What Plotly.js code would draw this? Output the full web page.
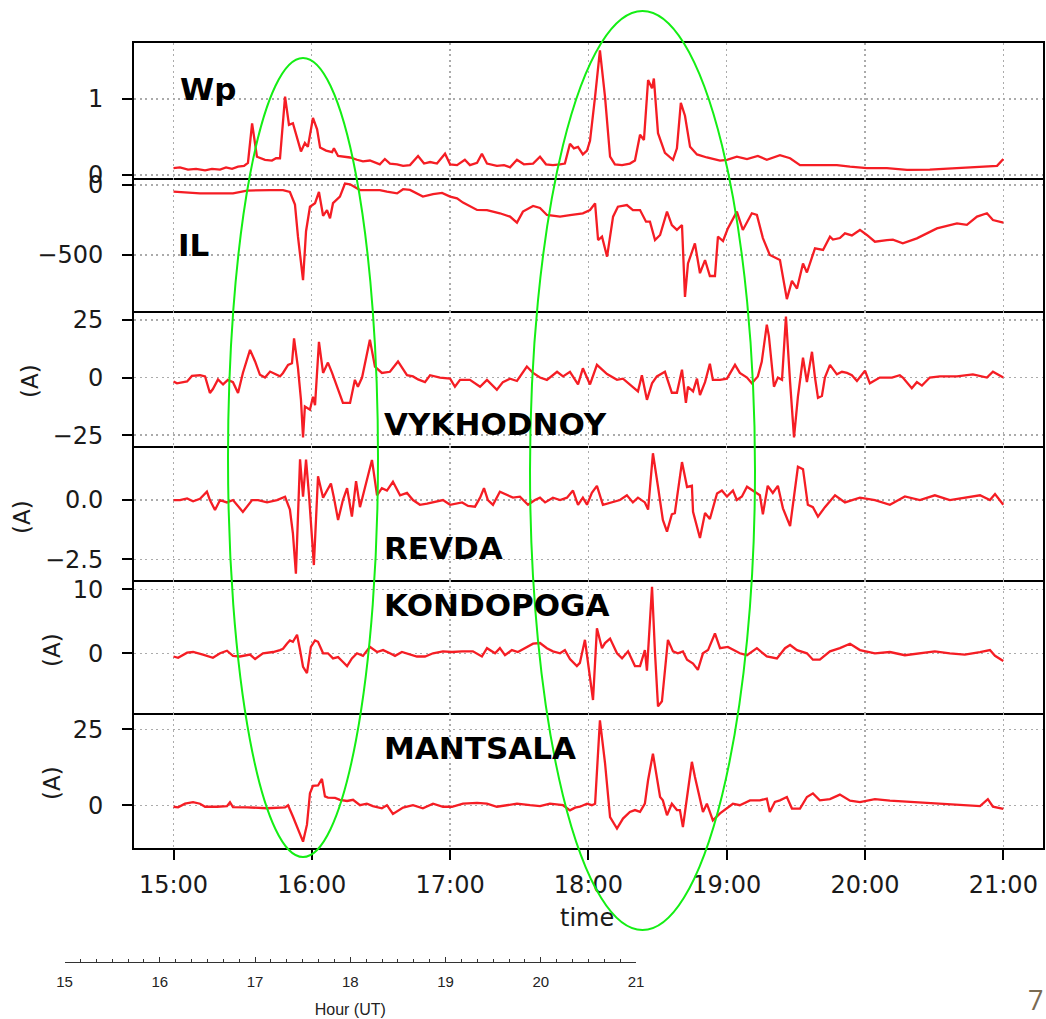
<!DOCTYPE html>
<html><head><meta charset="utf-8">
<script src="https://cdn.plot.ly/plotly-3.0.1.min.js"></script>
<style>html,body{margin:0;padding:0;background:#fff}#chart{width:1046px;height:1019px}</style>
</head><body><div id="chart"></div>
<script>
// ---- data: time in minutes after 15:00 UT, values per panel ----
const tWp = [0,2.8,6.3,9.8,13.7,16.7,20.2,22.8,25.4,28,30.6,32.3,34.1,36.2,39.7,42.7,44.5,46.2,48.4,50.1,51.8,54,55.3,57,58.3,60.5,62.3,63.6,66.2,68.8,69.6,71.4,74.4,76.6,79.6,82.2,85.2,89.5,91.7,93.9,97,99.6,102.6,106.1,108.7,111.3,114.3,117.8,120,123,126.4,128.6,131.7,133.8,136,140.3,143.4,146,149,152,156,159,161.6,164.6,167.7,169.8,172,173.7,175.5,177.6,179.4,180.7,182.9,185,187.2,189.4,191.5,194.6,198,200.2,202.4,204.1,205.9,207.6,208.4,210.2,213.2,216.7,218.4,220.1,221.9,224.1,227.1,231.4,237.1,240.1,244.4,248.8,253.5,257.4,263.1,267.5,271.8,280.4,287.8,293.5,300.8,309.5,318.2,328.1,338.1,346.8,352.9,357.3,360];
const vWp = [0.09,0.1,0.07,0.08,0.06,0.08,0.07,0.1,0.08,0.11,0.12,0.16,0.68,0.24,0.2,0.19,0.22,0.22,1.03,0.66,0.68,0.45,0.31,0.42,0.37,0.75,0.6,0.36,0.32,0.3,0.35,0.25,0.24,0.23,0.2,0.18,0.19,0.14,0.21,0.15,0.14,0.12,0.13,0.25,0.15,0.17,0.15,0.28,0.14,0.13,0.2,0.13,0.16,0.28,0.15,0.12,0.13,0.1,0.2,0.14,0.15,0.24,0.14,0.13,0.14,0.15,0.41,0.35,0.37,0.27,0.32,0.45,1.03,1.64,1.03,0.24,0.14,0.13,0.15,0.19,0.53,0.46,1.25,1.14,1.27,0.55,0.29,0.2,0.35,0.95,0.78,0.37,0.27,0.23,0.19,0.2,0.24,0.21,0.25,0.2,0.26,0.22,0.13,0.13,0.13,0.11,0.09,0.09,0.066,0.07,0.088,0.1,0.12,0.12,0.21];

const tIL = [0,11.5,25.8,31.9,41.9,47.5,50.5,52.7,54,54.9,56.2,57.5,59.2,61.4,63.1,64.9,66.6,67.9,69.2,72.2,74.4,76.6,80.9,85.2,89.5,92.6,97,99.6,102.6,108.2,112.6,116.5,120,123,125.6,131.7,136,141.6,146,149,151.6,156,159,162,167.7,172,177.6,180.7,182.9,184.2,185.9,188.1,190.7,192.8,196.7,199.3,202.4,205,206.7,208.9,211.1,214.1,216.2,218.4,220.6,221.9,223.2,226.2,228.4,230.6,232.7,234.9,236.2,238.4,240.5,244.4,247,250.9,253.1,255.7,258.7,263.1,266.1,268.3,270.5,273.1,274.8,278.3,281.8,284.8,286.1,289.1,291.3,294.3,297.8,300.8,304.3,309.5,312.1,316.4,322.5,331.2,339.9,344.2,348.6,352.9,355.5,360];
const vIL = [-48,-60,-60,-40,-36,-36,-50,-140,-369,-512,-679,-330,-155,-130,-50,-220,-180,-238,-130,-83,10,5,-36,-36,-36,-48,-60,-30,-35,-83,-65,-57,-83,-95,-126,-178,-180,-202,-226,-269,-190,-150,-164,-214,-226,-215,-202,-179,-131,-393,-369,-512,-226,-155,-143,-179,-179,-262,-262,-393,-357,-190,-286,-321,-286,-800,-560,-417,-630,-536,-650,-650,-369,-400,-310,-190,-321,-202,-214,-379,-500,-536,-815,-685,-740,-560,-625,-452,-464,-369,-390,-379,-345,-360,-321,-357,-405,-393,-390,-417,-381,-310,-274,-285,-226,-202,-250,-269];

const tVY = [0,1.5,5.9,8,11.5,13.7,15.8,17.1,19.3,21.5,23.6,25.8,28,30.1,33.2,35.4,37.5,39.7,41.9,46.2,47.5,49.7,51.4,52.3,54,55.3,56.2,57,59.2,60.5,61.4,63.1,64.9,67,68.8,70.9,73.5,76.6,78.7,80,81.8,85.2,87.4,90.4,93.9,97.4,101.3,103.9,106.1,109.1,111.3,115.6,120,122.1,124.3,128.6,133,136,140.3,142.9,146,149,153.3,156,159,162,166.4,169,172,175.5,177.6,180.7,183.7,188.1,192.4,195,198,201.5,203.2,205.4,207.6,209.7,213.2,216.2,218.4,220.6,222.3,223.2,225.4,227.1,228.4,230.6,232.7,234,237.1,240.1,243.6,245.7,248.8,250.9,253.5,255.2,257.4,258.3,260.5,262.2,264,265.7,267.5,269.2,270.9,273.1,274.8,277,278.3,279.6,281.3,282.6,284.8,287.8,290,292.2,294.3,296.5,300,302.1,306.4,311.7,315.1,316.4,320.3,322.5,324.7,328.1,332.5,339.9,346.8,352.9,355.5,360];
const vVY = [-1.7,-2.5,-1.7,0.7,1,0.5,-6.7,-5,-0.8,-3,-1,-2,-6.7,2,12,7,1.2,0,2.6,0.5,2,5.5,6.2,17,4.2,-9.7,-26,-12.6,-14,-8.3,-12,15.5,2,6.5,2,-3.5,-11,-11,-1,-4,0,16.4,4.7,2,2.5,7,1,0.5,-0.8,-2,1,0,-0.5,-4,-1,-1,-4,-1,-5.3,-2,-0.5,-1.5,4.8,2,0,-1,2.5,0.5,2.5,-3,4,-3,5.5,1.5,-1,-0.5,-3,-6,1,-9.7,-2.5,0.5,2.5,-6.6,-6.6,3.4,-11,-4,-6,-0.5,-7.6,-2,6,-1,-1,-0.5,5.5,2,0,-2.5,0.5,6.8,23,18,-4,0,-1,26.5,-2,-26,-8.3,8.6,-2,11.2,0,-8.8,-8,0,5.5,1.4,2.5,2,1,-1.5,3,-2.5,0,0,1,0,-4.6,-2,-3.5,0,0.5,0.5,1.4,0,2.5,0];

const tRV = [0,2.8,5.9,8.5,11.5,14.5,15.8,18,20.2,23.2,25.8,28.8,30.1,34.1,36.7,40.6,44.9,48.4,50.5,51.8,53.1,54.9,56.2,57.5,58.8,60.9,62.7,64.9,66.6,68.3,69.6,71.4,73.5,75.3,77.4,79.2,80.9,83.9,86.1,88.3,90.4,92.6,95.2,98.3,101.3,103.9,106.9,110,112.6,116.9,120,125.2,127.8,130.8,133,134.7,136.4,138.6,141.6,144.7,147.3,150.3,153.8,156.8,159,161.2,164.6,167.7,170.7,173.3,175.5,177.6,179.4,181.5,183.7,186.3,190.2,193.7,196.7,199.3,201.5,204.5,205.9,208,210.2,212.3,214.1,216.2,217.5,220.6,222.8,224.9,225.4,228.4,230.6,232.7,235.8,237.9,240.1,242.7,244.4,246.6,248.8,251.3,254.4,255.7,257.8,260,262.2,264.4,267.5,270.9,273.1,275.2,277.4,279.6,282.6,287,291.3,297.8,304.3,310.8,317.3,323.8,330.3,336.8,343.3,349.9,354.2,356.4,360];
const vRV = [0,0,0.07,-0.05,0.05,0.35,0,-0.42,0,-0.1,0,-0.35,-0.5,0,0,-0.1,0,0.14,-0.4,-1.4,-3.1,1.72,0.14,1.7,0.2,-2.74,1.0,0.1,0.4,0.7,0.1,-0.84,0,0.5,-0.7,0.8,-0.3,0.84,1.69,0.2,0.5,0.4,0.77,0.2,0.3,0,-0.2,-0.15,-0.1,0,-0.2,-0.1,-0.25,-0.28,0.1,0.5,0,-0.2,0.35,0.2,0.1,0.14,-0.2,0,0.1,-0.1,0.1,0,0.1,0.4,-0.2,0.1,-0.2,0.3,0.6,-0.2,-0.1,0,0.2,-0.1,0.1,-0.1,-0.4,1.97,0.56,-0.84,-1.33,-0.6,-0.55,1.6,0.55,0.6,-0.5,-1.6,-0.55,-0.8,0.28,0.4,0.15,0.4,0,0.15,0.56,0.4,0.2,-0.6,0.6,0.3,0.6,-0.35,-1.1,1.4,1.3,-0.2,-0.3,-0.7,-0.3,0.2,-0.1,0.1,0,-0.2,0.15,0,0.2,0,0.1,0.2,0,0.25,-0.2];

const tKO = [0,2,5.9,8.5,12.8,17.1,20.2,23.2,25.8,28.8,33.2,35.4,38.8,43.2,46.2,47.5,49.2,50.5,51.8,53.6,54.9,56.2,57.9,59.6,61.4,62.7,64.9,67,69.2,71.4,73.1,75.3,77.4,79.6,82.2,85.2,88.3,90.9,93.9,96.1,99.1,101.7,105.6,109.1,112.6,116.9,120.8,125.2,129.9,133.8,136,139.5,141.6,143.8,146.8,149.4,153.3,156,159,162,164.6,167.7,169.8,172,175,176.3,178.5,179.8,182,183.7,185.9,187.2,189.4,192.4,194.6,197.2,200.2,202.4,204.5,205.4,207.6,208.9,210.2,211.9,213.2,214.5,216.7,218.8,221,222.8,225.4,227.5,229.7,231.9,234.9,237.1,240.5,245.7,248.8,253.1,257.4,261.8,265.3,267.5,270.5,274.8,277.4,280.4,284.8,289.1,293.5,297.8,304.3,310.8,317.3,323.8,330.3,336.8,343.3,349.9,354.2,356.4,360];
const vKO = [-0.5,-0.7,0.1,0.2,-0.2,-0.7,0,0.4,-0.4,-0.5,-0.2,-0.9,0,0.2,0.5,0.7,1.5,2,1.8,2.9,0.5,-2.1,-3.1,1,2,1.8,0,0,-0.8,-0.6,-1.2,-2,-0.8,0,-0.4,1,0.2,0.5,0,-0.4,0.2,-0.1,-0.5,-0.5,0,0.3,0.2,0.3,0.3,-0.5,0.8,0,0.8,-0.3,0.5,0.2,1,1.5,1.6,0.8,0.3,0,0.5,-0.9,-2,-1.5,2.1,-1.6,-7.3,3.9,0.8,1.6,2.3,0,-0.8,0.3,-2,-2,0.5,-2.7,10.4,0,-8.3,-7.5,-2.5,2.1,0.3,0,0.3,-1,-1.6,-2.6,0,0.5,3.1,0.8,1,0,-0.3,0.8,-0.5,-0.8,0.8,1.3,0.5,0,-1,-1,0.3,0.8,1.5,0.5,0,0.2,-0.3,0,0.3,0,-0.2,0.2,0.5,-0.4,-1.2];

const tMA = [0,2,5,8.5,11.5,13.7,18.9,23.2,24.5,25.8,31.9,40.6,48.4,49.7,51.8,54,56.2,57.9,59.2,60.5,62.7,64.4,65.7,67,70.1,72.2,75.3,77.9,80.9,83.9,86.5,90.4,92.6,95.2,99.6,103.9,108.2,112.6,116.9,120.8,125.6,131.7,136,140.3,144.7,149,154.7,159,163.3,169,172,174.2,176.3,179.4,181.5,182.9,185,187.2,189.4,192.4,195,198,200.2,202.4,204.5,205.9,208,209.7,211.1,212.3,214.1,216.2,218.4,219.7,221,222.8,224.9,226.2,228.4,229.7,231.4,234,237.1,240.1,242.7,245.7,250.1,254.4,257.4,258.7,260.9,263.1,266.1,268.3,271.8,274.8,277.4,280.4,284.8,289.1,293.5,297.8,304.3,310.8,317.3,323.8,330.3,336.8,343.3,349.9,353.3,355.5,360];
const vMA = [-0.5,-0.7,0.5,1,0.5,-0.5,-0.5,-0.3,1,-0.6,-0.7,-1,-0.7,0,-3.7,-8,-12,-6.4,3.9,6.4,6.5,8.7,2.9,2.5,2.4,1.8,1.4,1.8,0,0.5,-0.3,-1,0,-2.9,-0.8,0,-1,0.5,-0.5,-0.5,0.5,0.8,0.5,-0.5,0,0.5,0,-0.3,0.5,0,-1.7,-0.8,-0.5,0.5,0,0.5,28,14,-3.9,-7.7,-4.4,-2.2,-1.6,-2.2,0.5,8.3,17,8.3,2.7,1.6,-3.3,0.5,-1.6,-1.6,-7.2,2.7,14.3,9.4,2.7,-2.2,0.5,-5,-2.7,-1.1,0.5,0,1.6,1.6,2.2,-2.2,1.1,1.6,2.7,-1.1,-1.1,2.7,3.9,1.6,2,3.5,1.5,1,2,1.5,1.2,1,0.8,0.5,0,-0.3,2,-0.5,-1.2];

const panelNames = ['Wp','IL','VYKHODNOY','REVDA','KONDOPOGA','MANTSALA'];
const hourTicks = [15,16,17,18,19,20,21];
const hourTickText = ['15:00','16:00','17:00','18:00','19:00','20:00','21:00'];
const utTickText = ['15','16','17','18','19','20','21'];
const yTicks = [[0,1],[-500,0],[-25,0,25],[-2.5,0],[0,10],[0,25]];

// ---- layout geometry ----
const W = 1046, H = 1019, ML = 60, MR = 3, MT = 43, MB = 57;
const PW = W - ML - MR, PH = H - MT - MB;
const px = x => (x - ML) / PW;
const py = y => (H - MB - y) / PH;
const edges = [43, 178, 311, 445.7, 580, 713.3, 848];
const yRanges = [[-0.04, 1.737], [-900, 50], [-29.6, 28.9], [-3.37, 2.29], [-9.375, 11.45], [-14.1, 30.3]];
const xRange = [14.7144, 21.287];
const series = [[tWp, vWp], [tIL, vIL], [tVY, vVY], [tRV, vRV], [tKO, vKO], [tMA, vMA]];

const FONT = 'DejaVu Sans, sans-serif';
const gridStyle = {showgrid: true, gridcolor: '#ababab', gridwidth: 1.4, griddash: '2px,3.5px', zeroline: false};

const data = [];
const layout = {
  width: W, height: H,
  margin: {l: ML, r: MR, t: MT, b: MB, pad: 0},
  paper_bgcolor: '#ffffff', plot_bgcolor: '#ffffff',
  showlegend: false,
  font: {family: FONT, size: 24, color: '#1a1a1a'},
  annotations: [], shapes: []
};

series.forEach((s, i) => {
  const n = i === 0 ? '' : String(i + 1);
  data.push({
    x: s[0].map(m => 15 + m / 60), y: s[1],
    xaxis: 'x' + n, yaxis: 'y' + n,
    type: 'scatter', mode: 'lines',
    line: {color: '#f51d24', width: 2.3},
    hoverinfo: 'skip'
  });
  const last = i === 5;
  layout['xaxis' + n] = Object.assign({
    domain: [px(134), 1], anchor: 'y' + n, range: xRange,
    tickvals: hourTicks, ticktext: hourTickText,
    showticklabels: last, ticks: last ? 'outside' : '', ticklen: 10, tickwidth: 2, tickcolor: '#000',
    ticklabelstandoff: 4,
    tickfont: {family: FONT, size: 24, color: '#1a1a1a'},
    showline: true, linecolor: '#000', linewidth: 2, mirror: i === 0,
    fixedrange: true
  }, gridStyle, i === 0 ? {} : {matches: 'x'});
  layout['yaxis' + n] = Object.assign({
    domain: [py(edges[i + 1]), py(edges[i])], anchor: 'x' + n, range: yRanges[i],
    tickvals: yTicks[i], tickformat: i === 3 ? '.1f' : 'd',
    ticks: 'outside', ticklen: 10, tickwidth: 2, tickcolor: '#000',
    ticklabelstandoff: 14,
    tickfont: {family: FONT, size: 24, color: '#1a1a1a'},
    showline: true, linecolor: '#000', linewidth: 2, mirror: true,
    fixedrange: true
  }, gridStyle);
});

// secondary "Hour (UT)" axis
data.push({x: [15, 21], y: [0, 0], xaxis: 'x7', yaxis: 'y7', type: 'scatter', mode: 'lines',
  line: {width: 0, color: 'rgba(0,0,0,0)'}, hoverinfo: 'skip'});
layout.xaxis7 = {
  domain: [px(64.5), px(636)], anchor: 'y7', range: [15, 21],
  tickvals: hourTicks, ticktext: utTickText,
  ticks: 'inside', ticklen: 5, tickwidth: 1, tickcolor: '#333',
  minor: {dtick: 1 / 6, ticks: 'inside', ticklen: 3, tickwidth: 1, tickcolor: '#333', showgrid: false},
  showline: true, linecolor: '#333', linewidth: 1, showgrid: false, zeroline: false,
  ticklabelstandoff: 6,
  tickfont: {family: 'Liberation Sans, Arial, sans-serif', size: 15, color: '#222'},
  title: {text: 'Hour (UT)', font: {family: 'Liberation Sans, Arial, sans-serif', size: 16, color: '#222'}, standoff: 14},
  fixedrange: true
};
layout.yaxis7 = {domain: [0, 0.001], anchor: 'x7', visible: false, range: [-1, 1], fixedrange: true};

// panel labels
const labelPos = [[178, 89], [176, 245], [382, 424], [382, 548], [382, 605], [382, 748]];
panelNames.forEach((t, i) => {
  layout.annotations.push({
    text: '<b>' + t + '</b>', xref: 'paper', yref: 'paper',
    x: px(labelPos[i][0]), y: py(labelPos[i][1]), xanchor: 'left', yanchor: 'middle',
    showarrow: false, font: {family: 'DejaVu Sans, sans-serif', size: 31, color: '#000'}
  });
});
// unit labels
[[30, 381], [22, 517], [52, 650], [52, 783]].forEach(p => {
  layout.annotations.push({
    text: '(A)', xref: 'paper', yref: 'paper', x: px(p[0]), y: py(p[1]),
    xanchor: 'center', yanchor: 'middle', textangle: -90, showarrow: false,
    font: {family: FONT, size: 23, color: '#1a1a1a'}
  });
});
// x axis title
layout.annotations.push({text: 'time', xref: 'paper', yref: 'paper', x: px(587), y: py(918),
  xanchor: 'center', yanchor: 'middle', showarrow: false, font: {family: FONT, size: 24, color: '#1a1a1a'}});
// page number
layout.annotations.push({text: '7', xref: 'paper', yref: 'paper', x: px(1035), y: py(1000),
  xanchor: 'center', yanchor: 'middle', showarrow: false, font: {family: 'Open Sans, sans-serif', size: 27, color: '#7a6a52'}});

// green highlight ellipses
[[228, 58, 378, 857], [530, 11, 755, 930]].forEach(e => {
  layout.shapes.push({type: 'circle', xref: 'paper', yref: 'paper',
    x0: px(e[0]), x1: px(e[2]), y0: py(e[3]), y1: py(e[1]),
    line: {color: '#14ee14', width: 2}, fillcolor: 'rgba(0,0,0,0)', layer: 'above'});
});

Plotly.newPlot('chart', data, layout, {displayModeBar: false, staticPlot: true});
</script></body></html>
